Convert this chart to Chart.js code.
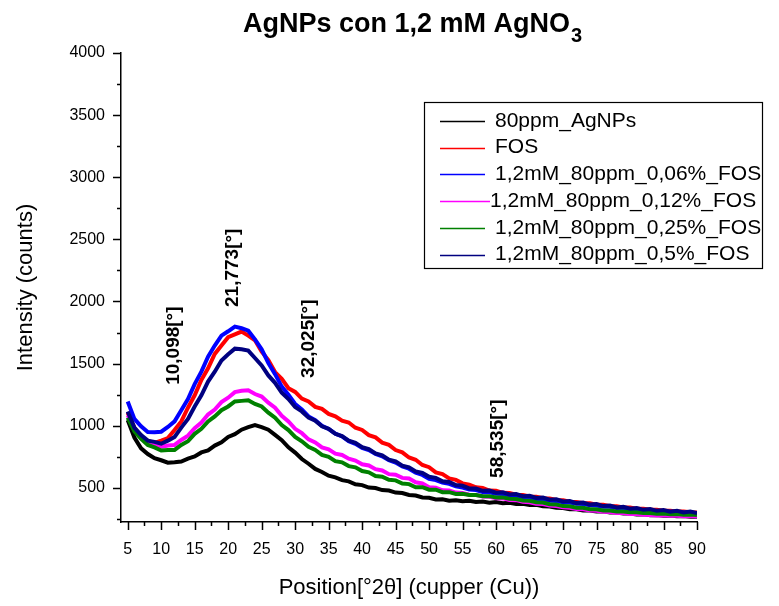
<!DOCTYPE html>
<html><head><meta charset="utf-8">
<script src="https://cdn.jsdelivr.net/npm/chart.js@4/dist/chart.umd.min.js"></script>
<style>html,body{margin:0;padding:0;background:#fff}#wrap{width:779px;height:606px}</style>
</head><body><div id="wrap"><canvas id="c" width="779" height="606"></canvas></div>
<script>
// ---- data ----
const positions = [5,6,7,8,9,10,11,12,13,14,15,16,17,18,19,20,21,22,23,24,25,26,27,28,29,30,31,32,33,34,35,36,37,38,39,40,41,42,43,44,45,46,47,48,49,50,51,52,53,54,55,56,57,58,59,60,61,62,63,64,65,66,67,68,69,70,71,72,73,74,75,76,77,78,79,80,81,82,83,84,85,86,87,88,89,90];

const agnps80 = [1045,905,818,772,738,722,702,706,712,735, 752,785,802,840,866,910,932,968,988,1005, 988,968,926,884,826,784,732,694,652,628, 598,584,562,552,528,522,502,498,482,478, 462,458,442,438,422,420,406,408,396,400, 392,396,386,390,380,386,376,380,370,372, 362,363,352,350,340,338,328,328,318,318, 310,311,302,301,294,293,286,287,280,281, 276,277,272,273,268,268];
const fos = [1105,985,905,878,862,880,900,965,1035,1145, 1245,1368,1462,1578,1645,1712,1735,1758,1725,1688, 1596,1528,1432,1378,1302,1272,1218,1196,1152,1136, 1095,1076,1040,1026,984,966,924,906,864,846, 804,786,744,726,684,666,624,610,576,564, 536,526,504,498,478,476,460,458,444,442, 430,428,416,414,402,400,388,387,376,375, 364,364,352,352,342,342,332,332,323,323, 316,316,309,309,303,302];
const fos006 = [1195,1055,995,950,948,952,990,1035,1125,1215, 1335,1435,1555,1645,1725,1760,1798,1785,1765,1695, 1615,1505,1415,1315,1250,1175,1130,1075,1045,1000, 974,936,914,876,854,822,804,772,754,722, 704,672,654,622,604,572,562,542,532,512, 502,487,482,467,464,452,450,438,436,424, 422,410,408,396,394,383,382,371,370,359, 358,347,347,337,337,328,328,320,320,313, 313,307,307,301,301,296];
const fos012 = [1085,975,915,865,850,830,840,845,885,920, 980,1025,1090,1130,1190,1225,1270,1282,1285,1255, 1235,1185,1145,1080,1035,975,940,890,865,825, 810,775,765,735,720,690,680,650,640,610, 605,580,575,545,535,505,500,480,478,462, 458,445,443,430,428,417,415,403,401,388, 384,372,370,358,354,343,340,330,328,318, 316,307,306,298,297,290,289,283,282,278, 279,275,275,272,273,270];
const fos025 = [1065,955,895,845,825,800,805,805,845,875, 935,975,1035,1075,1125,1155,1195,1200,1205,1175, 1155,1105,1065,1005,965,910,875,830,805,765, 750,715,705,675,665,635,625,595,590,565, 560,535,530,505,505,485,485,465,465,450, 452,442,443,432,433,422,423,412,410,398, 396,384,382,368,366,353,352,340,339,328, 328,318,318,310,310,303,304,297,298,292, 294,288,290,284,286,281];
const fos05 = [1115,985,925,880,870,855,880,910,985,1055, 1155,1245,1355,1435,1525,1575,1620,1615,1605,1545, 1485,1405,1345,1265,1215,1150,1115,1065,1040,995, 975,935,917,880,863,827,812,777,762,727, 713,679,665,632,620,589,580,553,547,522, 518,495,494,476,478,461,464,447,450,433, 436,419,422,405,408,391,394,377,381,365, 369,353,357,342,347,332,337,323,329,315, 321,308,315,302,309,298];

const seriesNames = ['80ppm_AgNPs','FOS','1,2mM_80ppm_0,06%_FOS','1,2mM_80ppm_0,12%_FOS','1,2mM_80ppm_0,25%_FOS','1,2mM_80ppm_0,5%_FOS'];
const seriesValues = [agnps80, fos, fos006, fos012, fos025, fos05];
const seriesColors = ['#000000','#FF0000','#0000FF','#FF00FF','#008000','#000080'];

const xMajorTicks = [5,10,15,20,25,30,35,40,45,50,55,60,65,70,75,80,85,90];
const xMinorTicks = [7.5,12.5,17.5,22.5,27.5,32.5,37.5,42.5,47.5,52.5,57.5,62.5,67.5,72.5,77.5,82.5,87.5];
const yMajorTicks = [500,1000,1500,2000,2500,3000,3500,4000];
const yMinorTicks = [250,750,1250,1750,2250,2750,3250,3750];

const peakLabels = ['10,098[°]','21,773[°]','32,025[°]','58,535[°]'];
const peakLabelX = [11.95,20.76,32.04,60.27];
const peakLabelY = [1329,1956,1385,580];

const titleMain = 'AgNPs con 1,2 mM AgNO';
const titleSub = '3';
const xTitle = 'Position[°2θ] (cupper (Cu))';
const yTitle = 'Intensity (counts)';

// ---- chart ----
const FONT = "'Liberation Sans', Arial, sans-serif";
Chart.defaults.font.family = FONT;
Chart.defaults.color = '#000';

const datasets = seriesNames.map((n, i) => ({
  label: n,
  data: positions.map((x, k) => ({x: x, y: seriesValues[i][k]})),
  borderColor: seriesColors[i],
  backgroundColor: seriesColors[i],
  borderWidth: 4,
  borderJoinStyle: 'miter',
  pointRadius: 0,
  tension: 0,
  fill: false,
  order: seriesNames.length - 1 - i
}));

const tickPlugin = {
  id: 'tickMarks',
  afterDraw(chart) {
    const ctx = chart.ctx, xs = chart.scales.x, ys = chart.scales.y;
    ctx.save();
    ctx.strokeStyle = '#000';
    ctx.lineWidth = 1.5;
    ctx.beginPath();
    const bottom = chart.chartArea.bottom, left = chart.chartArea.left;
    xMajorTicks.forEach(v => { const p = Math.round(xs.getPixelForValue(v)) + 0.5; ctx.moveTo(p, bottom); ctx.lineTo(p, bottom + 8); });
    xMinorTicks.forEach(v => { const p = Math.round(xs.getPixelForValue(v)) + 0.5; ctx.moveTo(p, bottom); ctx.lineTo(p, bottom + 4); });
    yMajorTicks.forEach(v => { const p = Math.round(ys.getPixelForValue(v)) + 0.5; ctx.moveTo(left, p); ctx.lineTo(left - 8, p); });
    yMinorTicks.forEach(v => { const p = Math.round(ys.getPixelForValue(v)) + 0.5; ctx.moveTo(left, p); ctx.lineTo(left - 4, p); });
    ctx.stroke();
    ctx.restore();
  }
};

const titlePlugin = {
  id: 'subTitle',
  afterDraw(chart) {
    const ctx = chart.ctx;
    ctx.save();
    ctx.fillStyle = '#000';
    ctx.textBaseline = 'alphabetic';
    ctx.font = 'bold 27px ' + FONT;
    const w1 = ctx.measureText(titleMain).width;
    ctx.font = 'bold 20px ' + FONT;
    const w2 = ctx.measureText(titleSub).width;
    const cx = 412;
    const x0 = cx - (w1 + w2) / 2;
    ctx.font = 'bold 27px ' + FONT;
    ctx.fillText(titleMain, x0, 32);
    ctx.font = 'bold 20px ' + FONT;
    ctx.fillText(titleSub, x0 + w1 + 1, 42);
    ctx.restore();
  }
};

const legendPlugin = {
  id: 'boxLegend',
  afterDraw(chart) {
    const ctx = chart.ctx;
    ctx.save();
    ctx.strokeStyle = '#000';
    ctx.lineWidth = 1.2;
    ctx.strokeRect(424.5, 102.5, 338, 166);
    ctx.font = '21px ' + FONT;
    ctx.textBaseline = 'middle';
    ctx.fillStyle = '#000';
    chart.data.datasets.forEach((ds, i) => {
      const y = 121 + i * 26.7;
      ctx.strokeStyle = ds.borderColor;
      ctx.lineWidth = 1.3;
      ctx.beginPath();
      ctx.moveTo(440, Math.round(y) + 0.5);
      ctx.lineTo(i === 3 ? 490 : 485, Math.round(y) + 0.5);
      ctx.stroke();
      ctx.fillText(ds.label, i === 3 ? 490 : 495, y);
    });
    ctx.restore();
  }
};

const peakPlugin = {
  id: 'peakLabels',
  afterDatasetsDraw(chart) {
    const ctx = chart.ctx, xs = chart.scales.x, ys = chart.scales.y;
    ctx.save();
    ctx.fillStyle = '#000';
    ctx.font = 'bold 19px ' + FONT;
    ctx.textBaseline = 'middle';
    ctx.textAlign = 'left';
    peakLabels.forEach((t, i) => {
      const px = xs.getPixelForValue(peakLabelX[i]);
      const py = ys.getPixelForValue(peakLabelY[i]);
      ctx.save();
      ctx.translate(px, py);
      ctx.rotate(-Math.PI / 2);
      ctx.fillText(t, 0, 0);
      ctx.restore();
    });
    ctx.restore();
  }
};

new Chart(document.getElementById('c'), {
  type: 'line',
  data: { datasets: datasets },
  options: {
    responsive: false,
    animation: false,
    events: [],
    layout: { padding: { left: 0, top: 53, right: 82, bottom: 0 } },
    plugins: { legend: { display: false }, title: { display: false }, tooltip: { enabled: false } },
    scales: {
      x: {
        type: 'linear', min: 4, max: 90,
        afterBuildTicks(s) { s.ticks = xMajorTicks.concat(xMinorTicks).sort((a, b) => a - b).map(v => ({ value: v })); },
        afterFit(s) { s.height = 84; },
        grid: { display: false, drawTicks: false },
        border: { display: true, color: '#000', width: 1.5 },
        ticks: { autoSkip: false, maxRotation: 0, padding: 18, font: { size: 16 }, color: '#000',
          callback: v => xMajorTicks.includes(v) ? String(v) : '' },
        title: { display: true, text: xTitle, font: { size: 22 }, color: '#000', padding: { top: 0, bottom: 5 } }
      },
      y: {
        type: 'linear', min: 225, max: 4000,
        afterBuildTicks(s) { s.ticks = yMinorTicks.concat(yMajorTicks).sort((a, b) => a - b).map(v => ({ value: v })); },
        afterFit(s) { s.width = 121; },
        grid: { display: false, drawTicks: false },
        border: { display: true, color: '#000', width: 1.5 },
        ticks: { autoSkip: false, padding: 16, font: { size: 16 }, color: '#000',
          callback: v => yMajorTicks.includes(v) ? String(v) : '' },
        title: { display: true, text: yTitle, font: { size: 22, lineHeight: 1 }, color: '#000', padding: { top: 15, bottom: 0 } }
      }
    }
  },
  plugins: [tickPlugin, titlePlugin, legendPlugin, peakPlugin]
});
</script>
</body></html>
